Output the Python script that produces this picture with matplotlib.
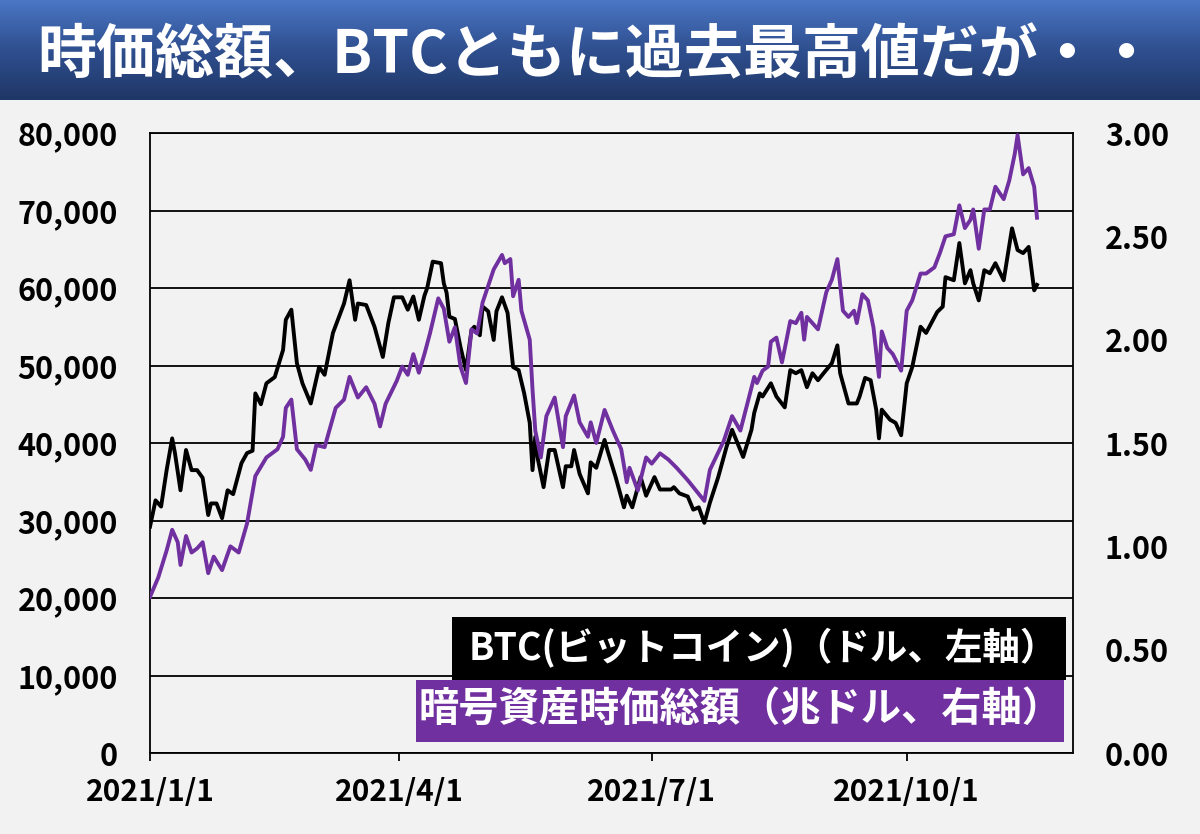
import numpy as np
import pandas as pd
import matplotlib
matplotlib.use("Agg")
import matplotlib.pyplot as plt
import matplotlib.dates as mdates
from matplotlib.patches import Rectangle
from matplotlib.colors import LinearSegmentedColormap

# fonte japonesa primeiro, DejaVu de reserva
plt.rcParams['font.family'] = ['Noto Sans CJK JP', 'DejaVu Sans']

inicio = pd.Timestamp("2021-01-01")
fim = pd.Timestamp("2021-11-30")

# BTC em dolares (dias contados a partir de 2021/1/1)
btc_dias = [0, 2, 4, 6, 8, 9, 11, 13, 15, 17, 19, 21, 22, 24, 26, 28, 30, 33, 35, 37,
            38, 40, 42, 45, 48, 49, 51, 53, 55, 58, 61, 63, 66, 70, 72, 74, 75, 78, 81, 84,
            86, 88, 91, 93, 95, 97, 99, 100, 102, 105, 106, 107, 108, 110, 112, 114, 116, 117, 119, 120,
            122, 124, 125, 127, 129, 131, 133, 135, 137, 138, 139, 140, 142, 144, 146, 149, 150, 152, 153, 155,
            158, 159, 161, 164, 165, 168, 171, 172, 174, 177, 179, 182, 184, 188, 189, 191, 194, 196, 198, 200,
            202, 205, 208, 210, 214, 217, 218, 220, 221, 224, 226, 229, 231, 233, 235, 237, 239, 241, 243, 246,
            248, 249, 252, 255, 256, 258, 260, 262, 263, 264, 267, 269, 271, 273, 275, 278, 280, 284, 286, 287,
            290, 292, 294, 296, 297, 299, 301, 303, 305, 308, 311, 313, 315, 317, 319, 320]
btc_preco = [29200, 32600, 31800, 36500, 40600, 38700, 33900, 39100, 36500, 36500, 35500, 30700, 32200, 32200, 30300, 33900, 33400, 37400, 38700, 39000,
             46400, 45000, 47700, 48500, 52000, 55900, 57200, 50300, 47700, 45100, 49800, 48800, 54200, 58000, 61000, 55900, 58000, 57800, 55000, 51100,
             55500, 58800, 58800, 57200, 58900, 55900, 59000, 60000, 63400, 63200, 60600, 59400, 56300, 56000, 52400, 49400, 54600, 55000, 53900, 57600,
             57000, 53300, 57000, 58800, 56800, 49800, 49400, 46400, 42600, 36500, 40800, 37800, 34300, 39100, 39100, 34300, 37000, 37000, 39100, 36000,
             33500, 37500, 36800, 40400, 39100, 35600, 31700, 33200, 31700, 35600, 33200, 35600, 34000, 34000, 34300, 33500, 33100, 31400, 31700, 29700,
             32300, 35600, 39500, 41700, 38200, 41700, 43900, 46400, 46000, 47700, 46000, 44600, 49400, 49000, 49400, 47200, 49000, 48100, 49000, 50300,
             52600, 49000, 45100, 45100, 46000, 48400, 48100, 44300, 40600, 44300, 43000, 42600, 41000, 47700, 49800, 55000, 54200, 56900, 57600, 61400,
             61000, 65800, 60600, 62300, 60600, 58400, 62300, 61900, 63200, 61000, 67700, 64900, 64500, 65300, 59700, 60400]

# capitalizacao total em trilhoes de dolares
cap_dias = [0, 3, 6, 8, 10, 11, 13, 15, 17, 19, 21, 23, 26, 29, 32, 35, 38, 42, 46, 48,
            49, 51, 53, 56, 58, 60, 63, 67, 70, 72, 75, 78, 81, 83, 85, 89, 91, 93, 95, 97,
            99, 101, 104, 106, 108, 110, 112, 114, 116, 118, 120, 124, 127, 128, 130, 131, 133, 134, 137, 138,
            139, 141, 143, 146, 149, 150, 153, 155, 158, 159, 161, 164, 167, 170, 172, 173, 176, 179, 181, 184,
            187, 190, 194, 197, 200, 202, 207, 210, 213, 218, 219, 221, 223, 224, 226, 228, 231, 233, 235, 236,
            237, 241, 244, 246, 248, 250, 252, 254, 255, 257, 259, 261, 263, 264, 266, 268, 271, 273, 275, 278,
            280, 283, 285, 287, 290, 292, 294, 296, 297, 299, 301, 303, 305, 308, 310, 312, 313, 315, 317, 319, 320]
cap_total = [0.755, 0.85, 0.98, 1.08, 1.02, 0.91, 1.05, 0.97, 0.99, 1.02, 0.87, 0.95, 0.885, 1.00, 0.97, 1.11, 1.34, 1.43, 1.47, 1.53,
             1.67, 1.71, 1.47, 1.42, 1.37, 1.49, 1.48, 1.67, 1.71, 1.82, 1.72, 1.77, 1.69, 1.58, 1.69, 1.80, 1.87, 1.83, 1.93, 1.84,
             1.93, 2.03, 2.20, 2.15, 1.99, 2.06, 1.87, 1.79, 2.05, 2.03, 2.18, 2.34, 2.41, 2.37, 2.39, 2.21, 2.29, 2.14, 2.00, 1.76,
             1.56, 1.43, 1.63, 1.72, 1.48, 1.63, 1.73, 1.60, 1.53, 1.60, 1.50, 1.66, 1.56, 1.47, 1.31, 1.38, 1.27, 1.43, 1.40, 1.45,
             1.42, 1.38, 1.32, 1.27, 1.22, 1.37, 1.51, 1.63, 1.56, 1.82, 1.79, 1.85, 1.87, 1.99, 2.01, 1.89, 2.09, 2.08, 2.13, 2.00,
             2.11, 2.05, 2.23, 2.29, 2.39, 2.14, 2.11, 2.14, 2.08, 2.22, 2.19, 2.06, 1.82, 2.04, 1.96, 1.93, 1.85, 2.14, 2.19, 2.32,
             2.32, 2.35, 2.42, 2.50, 2.51, 2.65, 2.54, 2.58, 2.63, 2.44, 2.63, 2.63, 2.74, 2.68, 2.77, 2.90, 2.99, 2.80, 2.83, 2.74, 2.59]

titulo = "時価総額、BTCともに過去最高値だが・・"
nome_btc = "BTC(ビットコイン)（ドル、左軸）"
nome_cap = "暗号資産時価総額（兆ドル、右軸）"
datas_ticks = ["2021-01-01", "2021-04-01", "2021-07-01", "2021-10-01"]
rotulos_ticks = ["2021/1/1", "2021/4/1", "2021/7/1", "2021/10/1"]
ticks_esq = [0, 10000, 20000, 30000, 40000, 50000, 60000, 70000, 80000]
ticks_dir = [0.0, 0.5, 1.0, 1.5, 2.0, 2.5, 3.0]

cor_fundo = '#F2F2F2'
cor_roxo = '#7030A0'

btc_datas = inicio + pd.to_timedelta(btc_dias, unit='D')
cap_datas = inicio + pd.to_timedelta(cap_dias, unit='D')

fig = plt.figure(figsize=(12, 8.34), dpi=100, facecolor=cor_fundo)

# faixa do titulo com degrade azul
faixa = fig.add_axes([0, 1 - 100 / 834, 1, 100 / 834])
degrade = LinearSegmentedColormap.from_list('faixa', ['#4A76C4', '#2F4F8F', '#1F3767'])
faixa.imshow(np.linspace(0, 1, 100).reshape(-1, 1), aspect='auto', cmap=degrade,
             extent=[0, 1, 0, 1])
faixa.set_axis_off()
fig.text(0.497, 1 - 56 / 834, titulo, ha='center', va='center', color='white',
         fontsize=42.5, fontweight='bold')

ax = fig.add_axes([150 / 1200, 1 - 753 / 834, 923 / 1200, 620 / 834])
ax.set_facecolor(cor_fundo)
ax.plot(btc_datas, btc_preco, color='black', lw=2.8, zorder=3)
ax.set_ylim(0, 80000)
ax.set_yticks(ticks_esq)
ax.set_yticklabels([f"{v:,}" for v in ticks_esq])
ax.yaxis.grid(True, color='black', lw=1.3)
ax.set_axisbelow(True)
ax.set_xlim(inicio, fim)
ax.set_xticks(pd.to_datetime(datas_ticks))
ax.set_xticklabels(rotulos_ticks)
ax.tick_params(axis='y', length=0, pad=23, labelsize=22)
ax.tick_params(axis='x', direction='out', length=6, width=1.3, pad=11, labelsize=21.5)
for lbl in ax.get_xticklabels() + ax.get_yticklabels():
    lbl.set_fontweight('bold')
for s in ax.spines.values():
    s.set_color('black')
    s.set_linewidth(1.3)

ax2 = ax.twinx()
ax2.plot(cap_datas, cap_total, color=cor_roxo, lw=2.8, zorder=3)
ax2.set_ylim(0, 3)
ax2.set_yticks(ticks_dir)
ax2.set_yticklabels([f"{v:.2f}" for v in ticks_dir])
ax2.tick_params(axis='y', length=0, pad=23, labelsize=22)
for lbl in ax2.get_yticklabels():
    lbl.set_fontweight('bold')
for s in ax2.spines.values():
    s.set_visible(False)

# caixas da legenda
ax2.add_patch(Rectangle((0.327, 0.118), 0.665, 0.101, transform=ax2.transAxes,
                        facecolor='black', edgecolor='none', zorder=5))
ax2.add_patch(Rectangle((0.288, 0.018), 0.702, 0.100, transform=ax2.transAxes,
                        facecolor=cor_roxo, edgecolor='none', zorder=6))
ax2.text(0.664, 0.170, nome_btc, transform=ax2.transAxes, ha='center', va='center',
         color='white', fontsize=27, fontweight='bold', zorder=7)
ax2.text(0.640, 0.070, nome_cap, transform=ax2.transAxes, ha='center', va='center',
         color='white', fontsize=29, fontweight='bold', zorder=7)

fig.savefig('out.png', dpi=100, facecolor=fig.get_facecolor())
